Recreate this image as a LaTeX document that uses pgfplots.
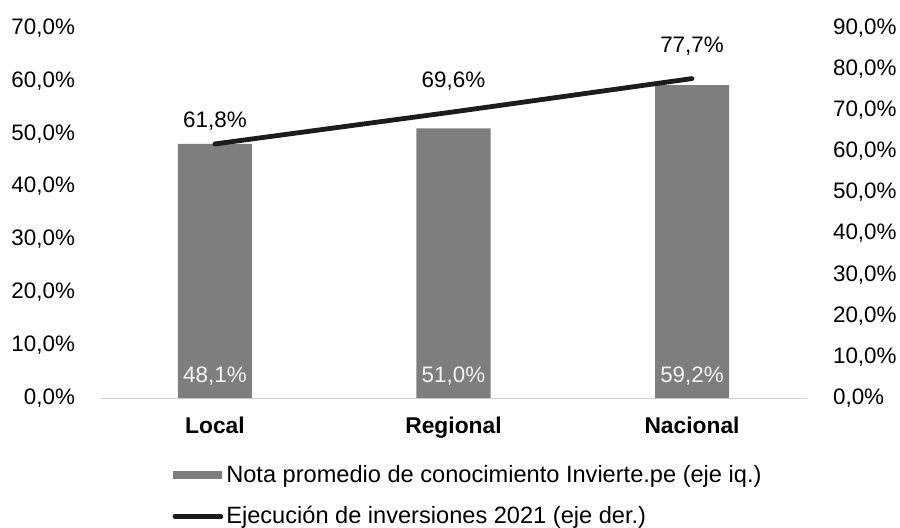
\documentclass[border=0pt]{standalone}
\usepackage{pgfplots}
\pgfplotsset{compat=1.18}
\usepackage{fontspec}
\setmainfont{Liberation Sans}
\definecolor{barc}{RGB}{126,126,126}
\definecolor{linec}{RGB}{28,28,28}
\begin{document}
\begin{tikzpicture}[font=\fontsize{11.2}{13}\selectfont]
\useasboundingbox (-50pt,-64.5pt) rectangle (400pt,199pt);
\begin{axis}[
  at={(0,0)}, anchor=south west,
  scale only axis, width=353.5pt, height=185pt,
  xmin=-0.482, xmax=2.482, ymin=0, ymax=70,
  axis y line*=left, axis x line*=bottom,
  y axis line style={draw=none},
  x axis line style={gray!35, thin},
  major tick length=0pt,
  ytick={0,10,...,70},
  yticklabel={\pgfmathprintnumber[fixed,fixed zerofill,precision=1,use comma]{\tick}\%},
  /pgf/number format/assume math mode=true,
  yticklabel style={xshift=-9pt},
  xtick={0,1,2},
  xticklabels={Local,Regional,Nacional},
  xticklabel style={font=\fontsize{11.4}{13}\selectfont\bfseries, yshift=-6pt},
  clip=false,
]
\addplot[ybar, bar width=37pt, fill=barc, draw=none] coordinates {(0,48.1) (1,51.0) (2,59.2)};
\addplot[draw=none, nodes near coords, point meta=explicit symbolic,
  nodes near coords style={white!92!gray, anchor=center}]
  coordinates {(0,4.2) [48,1\%] (1,4.2) [51,0\%] (2,4.2) [59,2\%]};
\end{axis}
\begin{axis}[
  at={(0,0)}, anchor=south west,
  scale only axis, width=353.5pt, height=185pt,
  xmin=-0.482, xmax=2.482, ymin=0, ymax=90,
  axis y line*=right, axis x line=none,
  y axis line style={draw=none},
  major tick length=0pt,
  ytick={0,10,...,90},
  yticklabel={\pgfmathprintnumber[fixed,fixed zerofill,precision=1,use comma]{\tick}\%},
  /pgf/number format/assume math mode=true,
  yticklabel style={xshift=9.5pt},
  clip=false,
  legend style={at={(0.102,-0.172)}, anchor=north west, draw=none, fill=none,
    inner sep=0pt, row sep=7.5pt, nodes={inner sep=1.5pt},
    font=\fontsize{11.8}{14}\selectfont},
  legend cell align=left,
]
\addlegendimage{legend image code/.code={\fill[barc] (0pt,-1.8pt) rectangle (24pt,1.8pt);}}
\addlegendentry{Nota promedio de conocimiento Invierte.pe (eje iq.)}
\addplot[line width=2.4pt, linec, line cap=round,
  legend image code/.code={\draw[line width=2.2pt, linec, line cap=round] (0.8pt,0pt) -- (24pt,0pt);}]
  coordinates {(0,61.8) (1,69.6) (2,77.7)};
\addlegendentry{Ejecución de inversiones 2021 (eje der.)}
\addplot[draw=none, forget plot, nodes near coords, point meta=explicit symbolic,
  nodes near coords style={black, anchor=center}]
  coordinates {(0,67.3) [61,8\%] (1,77.2) [69,6\%] (2,85.7) [77,7\%]};
\end{axis}
\end{tikzpicture}
\end{document}
